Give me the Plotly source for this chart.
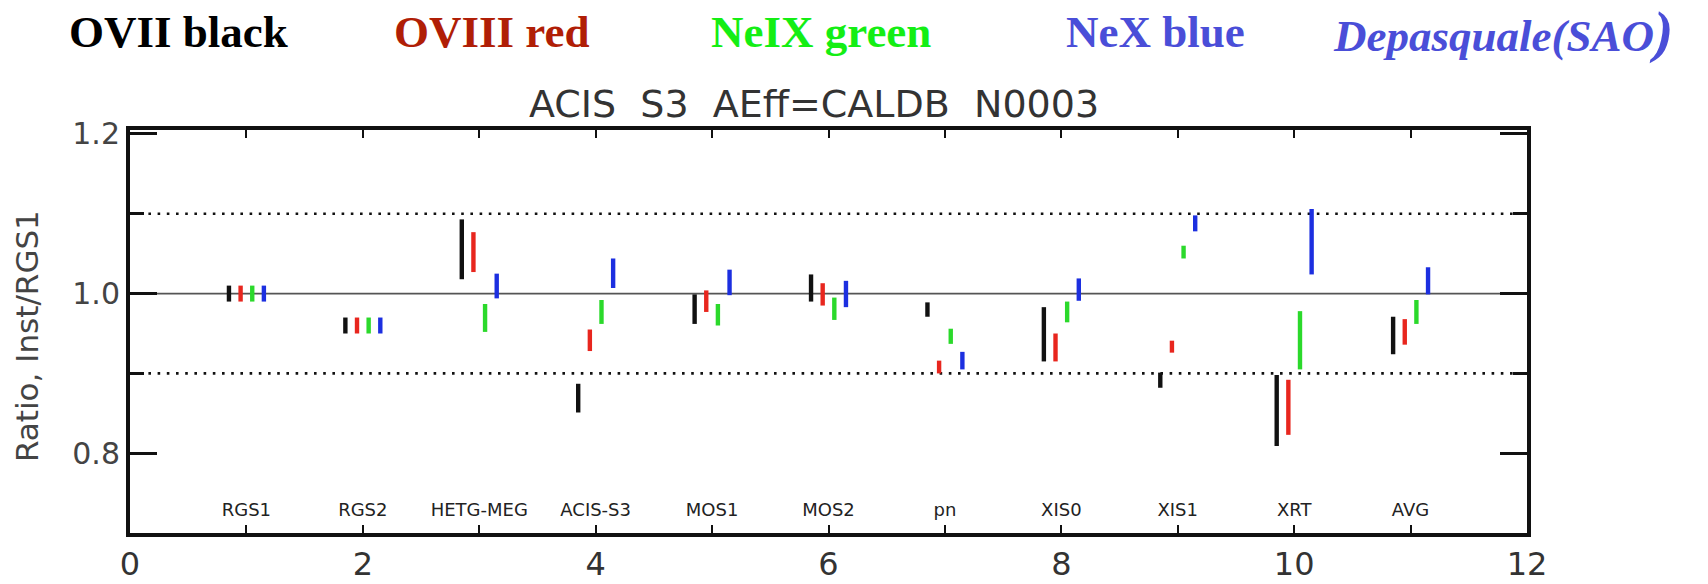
import plotly.graph_objects as go

# Instruments along the x axis (positions 1..11)
instruments = ["RGS1", "RGS2", "HETG-MEG", "ACIS-S3", "MOS1", "MOS2",
               "pn", "XIS0", "XIS1", "XRT", "AVG"]

# Ratio ranges (low, high) per line, one entry per instrument
ovii_low = [0.990, 0.950, 1.018, 0.851, 0.962, 0.990, 0.971, 0.915, 0.882, 0.809, 0.924]
ovii_high = [1.010, 0.970, 1.093, 0.887, 0.999, 1.024, 0.989, 0.983, 0.901, 0.898, 0.971]

oviii_low = [0.990, 0.950, 1.027, 0.928, 0.977, 0.985, 0.900, 0.915, 0.926, 0.823, 0.936]
oviii_high = [1.010, 0.970, 1.077, 0.955, 1.004, 1.013, 0.916, 0.950, 0.941, 0.892, 0.968]

neix_low = [0.990, 0.950, 0.952, 0.962, 0.960, 0.967, 0.937, 0.964, 1.044, 0.905, 0.962]
neix_high = [1.010, 0.970, 0.987, 0.992, 0.987, 0.995, 0.956, 0.990, 1.060, 0.978, 0.992]

nex_low = [0.990, 0.950, 0.994, 1.007, 0.998, 0.983, 0.905, 0.991, 1.078, 1.024, 0.999]
nex_high = [1.010, 0.970, 1.025, 1.044, 1.030, 1.016, 0.927, 1.019, 1.098, 1.106, 1.033]

x_ticks = [0, 2, 4, 6, 8, 10, 12]
y_ticks = [0.8, 1.0, 1.2]

W, H = 1708, 584
L, R, T, B = 130, 181, 130, 51
PW, PH = W - L - R, H - T - B


def px(x):
    return (x - L) / PW


def py(y):
    return (H - B - y) / PH


series = [
    ("OVII", ovii_low, ovii_high, "#111111", -0.15),
    ("OVIII", oviii_low, oviii_high, "#e8261e", -0.05),
    ("NeIX", neix_low, neix_high, "#2bd92b", 0.05),
    ("NeX", nex_low, nex_high, "#1c2fe0", 0.15),
]

fig = go.Figure()

# reference levels: solid at unity, dotted at +/-10%
fig.add_hline(y=1.0, line=dict(color="#555555", width=1.6), layer="below")
for lvl in (0.9, 1.1):
    fig.add_hline(y=lvl, line=dict(color="#111111", width=2.6, dash="2.6px,6.6px"),
                  layer="below")

for name, lo, hi, color, off in series:
    xs, ys = [], []
    for i, (a, b) in enumerate(zip(lo, hi)):
        xpos = i + 1 + off
        xs += [xpos, xpos, None]
        ys += [a, b, None]
    fig.add_trace(go.Scatter(x=xs, y=ys, mode="lines", name=name,
                             line=dict(color=color, width=4.4),
                             hoverinfo="skip", showlegend=False))

# instrument names along the bottom of the frame
fig.add_trace(go.Scatter(
    x=list(range(1, len(instruments) + 1)), y=[0.727] * len(instruments),
    mode="text", text=instruments,
    textfont=dict(family="DejaVu Sans", size=18, color="#222222"),
    hoverinfo="skip", showlegend=False))

fig.update_xaxes(
    range=[0, 12], tickvals=x_ticks, ticktext=[str(v) for v in x_ticks],
    showgrid=False, zeroline=False, automargin=False,
    showline=True, linecolor="#111111", linewidth=4, mirror="allticks",
    ticks="inside", ticklen=8, tickwidth=2, tickcolor="#111111",
    minor=dict(dtick=1, tick0=0, ticks="inside", ticklen=8, tickwidth=2,
               tickcolor="#111111"),
    tickfont=dict(family="DejaVu Sans", size=32, color="#333333"),
    ticklabelstandoff=0,
)
fig.update_yaxes(
    range=[0.7, 1.205], tickvals=y_ticks, tickformat=".1f",
    showgrid=False, zeroline=False, automargin=False,
    showline=True, linecolor="#111111", linewidth=4, mirror="allticks",
    ticks="inside", ticklen=27, tickwidth=3, tickcolor="#111111",
    minor=dict(tickvals=[0.9, 1.1], ticks="inside", ticklen=14, tickwidth=3,
               tickcolor="#111111"),
    tickfont=dict(family="DejaVu Sans", size=30, color="#444444"),
    ticklabelstandoff=0,
)

annotations = [
    dict(text="Ratio, Inst/RGS1", x=px(27), y=py(336), textangle=-90,
         font=dict(family="DejaVu Sans", size=31, color="#444444")),
    dict(text="ACIS\u00a0\u00a0S3\u00a0\u00a0AEff=CALDB\u00a0\u00a0N0003",
         x=px(814), y=py(104),
         font=dict(family="DejaVu Sans", size=38, color="#333333")),
]

header = [
    ("<b>OVII black</b>", 67, "#000000"),
    ("<b>OVIII red</b>", 392, "#b01e06"),
    ("<b>NeIX green</b>", 709, "#14ee14"),
    ("<b>NeX blue</b>", 1064, "#4a4ed8"),
    ("<b><i>Depasquale(SAO<span style='font-size:58px'>)</span></i></b>", 1331, "#4a4ed8"),
]
for txt, x0, col in header:
    annotations.append(dict(text=txt, x=px(x0), y=py(32), xanchor="left",
                            font=dict(family="Liberation Serif", size=45, color=col)))

for a in annotations:
    a.setdefault("xanchor", "center")
    a.update(xref="paper", yref="paper", yanchor="middle", showarrow=False)

fig.update_layout(
    width=W, height=H,
    margin=dict(l=L, r=R, t=T, b=B, pad=0, autoexpand=False),
    paper_bgcolor="white", plot_bgcolor="white",
    annotations=annotations,
    showlegend=False,
)

fig.write_html("out.html")
